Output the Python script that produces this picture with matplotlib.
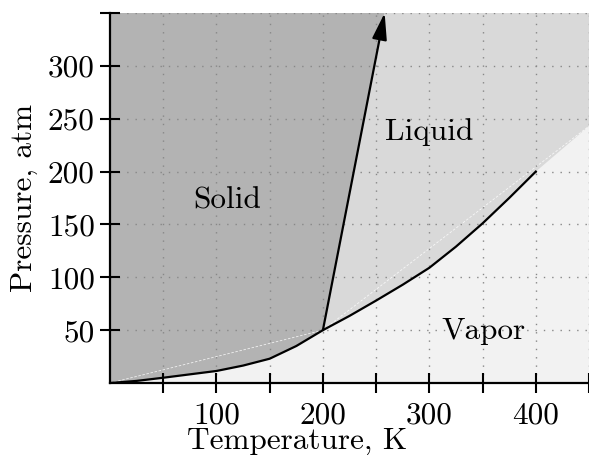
import matplotlib

matplotlib.use("Agg")
import matplotlib.pyplot as plt
import numpy as np

# phase boundaries (T in K, P in atm)
vap_T = [0, 25, 50, 100, 125, 150, 175, 200, 225, 250, 275, 300, 325, 350, 375, 400]
vap_P = [0, 2, 5, 11.4, 16.5, 23, 35, 50, 63.5, 78, 93, 109, 129, 151, 175, 200]
triple = (200, 50)
melt_top = (258, 350)
right_edge_P = 243

x_ticks = [50, 100, 150, 200, 250, 300, 350, 400, 450]
x_labels = ["", "100", "", "200", "", "300", "", "400", ""]
y_ticks = [50, 100, 150, 200, 250, 300, 350]
y_labels = ["50", "100", "150", "200", "250", "300", ""]

regions = [("Solid", 110, 173), ("Liquid", 300, 237), ("Vapor", 351, 49)]

FONT = 22.5

plt.rcParams["font.family"] = "cmr10"
plt.rcParams["axes.formatter.use_mathtext"] = True

fig = plt.figure(figsize=(5.89, 4.55), dpi=100)
ax = fig.add_axes([0.1868, 0.1582, 0.8132, 0.8132])
xmax, ymax = 450, 350
ax.set_xlim(0, xmax)
ax.set_ylim(0, ymax)

vT = np.array(vap_T, dtype=float)
vP = np.array(vap_P, dtype=float)
i3 = vap_T.index(triple[0])

# vapor (background)
ax.fill_between([0, xmax], 0, ymax, color="#f2f2f2", zorder=0, lw=0)
# liquid
liq_x = list(vT[i3:]) + [xmax, xmax, melt_top[0]]
liq_y = list(vP[i3:]) + [right_edge_P, ymax, ymax]
ax.fill(liq_x, liq_y, color="#d9d9d9", lw=0, zorder=1)
# solid
sol_x = list(vT[: i3 + 1]) + [melt_top[0], 0]
sol_y = list(vP[: i3 + 1]) + [ymax, ymax]
ax.fill(sol_x, sol_y, color="#b3b3b3", lw=0, zorder=1)

# faint seams left by the original fills
ax.plot([0, triple[0], xmax], [0, triple[1], right_edge_P], color="white",
        lw=0.6, ls=(0, (3, 2)), alpha=0.8, zorder=1.5)

ax.grid(True, color="#888888", ls=(0, (1, 5)), lw=1.0)
for gl in ax.get_xgridlines() + ax.get_ygridlines():
    gl.set_zorder(2)

ax.plot(vT, vP, color="black", lw=1.6, zorder=4, solid_joinstyle="round")
ax.annotate("", xy=melt_top, xytext=triple,
            arrowprops=dict(arrowstyle="-|>,head_length=0.9,head_width=0.25",
                            mutation_scale=18, color="black", lw=1.6,
                            shrinkA=0, shrinkB=0),
            zorder=4, annotation_clip=False)

for name, x, y in regions:
    ax.text(x, y, name, fontsize=FONT, ha="center", va="center", zorder=5)

ax.set_xticks(x_ticks)
ax.set_xticklabels(x_labels)
ax.set_yticks(y_ticks)
ax.set_yticklabels(y_labels)
ax.tick_params(direction="inout", length=14, width=1.5, labelsize=FONT)
ax.tick_params(axis="x", pad=6)
ax.tick_params(axis="y", pad=4)

for side in ("top", "right"):
    ax.spines[side].set_visible(False)
for side in ("left", "bottom"):
    ax.spines[side].set_linewidth(1.6)
    ax.spines[side].set_zorder(6)

ax.set_xlabel("Temperature, K", fontsize=FONT)
ax.xaxis.set_label_coords(0.391, -0.12)
ax.set_ylabel("Pressure, atm", fontsize=FONT)
ax.yaxis.set_label_coords(-0.15, 0.5)

fig.savefig("out.png", dpi=100)
